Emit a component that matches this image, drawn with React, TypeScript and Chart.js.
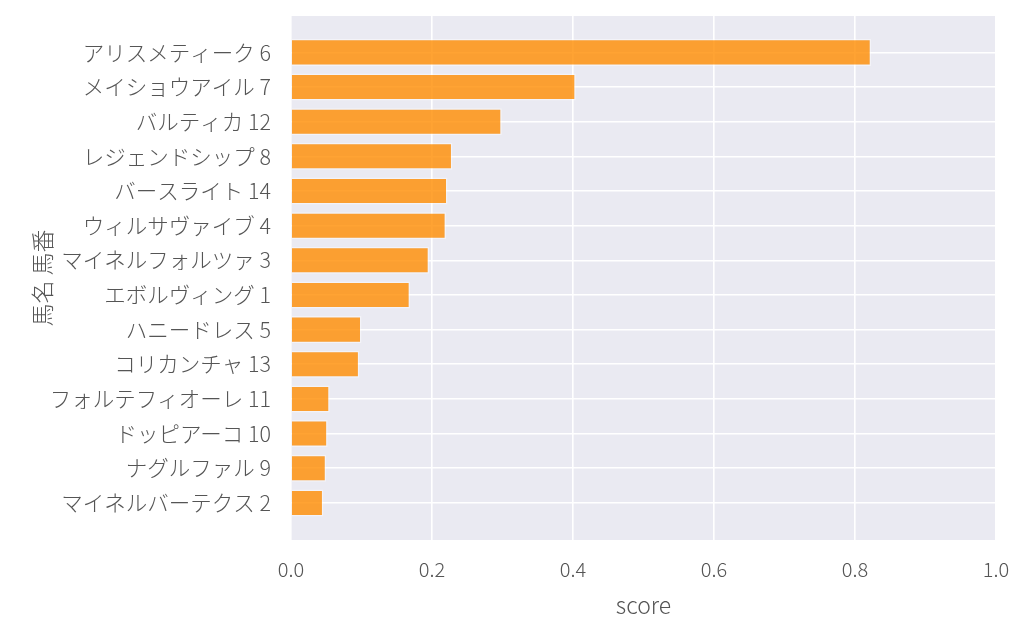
import { useEffect, useRef } from 'react';
import Chart from 'chart.js/auto';

// horse name + number, top to bottom
const horses = [
  'アリスメティーク 6',
  'メイショウアイル 7',
  'バルティカ 12',
  'レジェンドシップ 8',
  'バースライト 14',
  'ウィルサヴァイブ 4',
  'マイネルフォルツァ 3',
  'エボルヴィング 1',
  'ハニードレス 5',
  'コリカンチャ 13',
  'フォルテフィオーレ 11',
  'ドッピアーコ 10',
  'ナグルファル 9',
  'マイネルバーテクス 2',
];
const scores = [0.823, 0.404, 0.299, 0.229, 0.222, 0.220, 0.196, 0.169, 0.100, 0.097, 0.055, 0.052, 0.050, 0.046];
const xTicks = [0, 0.2, 0.4, 0.6, 0.8, 1.0];

const FONT = '"Noto Sans CJK JP", "Noto Sans", sans-serif';
const TEXT = '#555555';

const plotBg = {
  id: 'plotBg',
  beforeDraw(chart: any) {
    const { ctx, chartArea } = chart;
    ctx.save();
    ctx.fillStyle = '#EAEAF2';
    ctx.fillRect(chartArea.left, chartArea.top, chartArea.right - chartArea.left, chartArea.bottom - chartArea.top);
    ctx.restore();
  },
};

export default function App() {
  const canvasRef = useRef<HTMLCanvasElement | null>(null);

  useEffect(() => {
    if (!canvasRef.current) return;
    const chart = new Chart(canvasRef.current, {
      type: 'bar',
      data: {
        datasets: [
          {
            label: 'score',
            data: scores.map((s, i) => ({ x: s, y: i })),
            backgroundColor: 'rgba(255,140,0,0.8)',
            borderColor: 'rgba(255,255,255,0.45)',
            borderWidth: 1.5,
            barPercentage: 0.78,
            categoryPercentage: 1,
          },
        ],
      },
      options: {
        indexAxis: 'y',
        animation: false,
        responsive: false,
        layout: { padding: { top: 16, right: 28, left: 0, bottom: 0 } },
        plugins: { legend: { display: false }, tooltip: { enabled: false } },
        scales: {
          x: {
            type: 'linear',
            min: 0,
            max: 1,
            offset: false,
            afterBuildTicks: (scale: any) => {
              scale.ticks = xTicks.map((v) => ({ value: v }));
            },
            afterFit: (scale: any) => {
              scale.height = 91;
              scale.paddingLeft = 0;
              scale.paddingRight = 0;
            },
            grid: { color: '#ffffff', lineWidth: 1.6, drawTicks: false, offset: false },
            border: { display: false },
            ticks: {
              padding: 17,
              color: TEXT,
              font: { family: FONT, size: 20, weight: 300 },
              callback: (v: any) => Number(v).toFixed(1),
            },
            title: {
              display: true,
              text: 'score',
              color: TEXT,
              font: { family: FONT, size: 23, weight: 300 },
              padding: { top: 0, bottom: 12 },
            },
          },
          y: {
            type: 'linear',
            reverse: true,
            min: -1.05,
            max: 14.07,
            offset: false,
            afterBuildTicks: (scale: any) => {
              scale.ticks = horses.map((_, i) => ({ value: i }));
            },
            afterFit: (scale: any) => {
              scale.width = 291;
              scale.paddingTop = 0;
              scale.paddingBottom = 0;
            },
            grid: { color: '#ffffff', lineWidth: 1.6, drawTicks: false, offset: false },
            border: { display: false },
            ticks: {
              padding: 20,
              color: TEXT,
              font: { family: FONT, size: 21.5, weight: 300 },
              callback: (v: any) => horses[v] ?? '',
            },
            title: {
              display: true,
              text: '馬名 馬番',
              color: TEXT,
              font: { family: FONT, size: 23, weight: 300 },
              padding: { top: 28, bottom: 0 },
            },
          },
        },
      },
      plugins: [plotBg],
    });
    return () => chart.destroy();
  }, []);

  return (
    <div style={{ position: 'fixed', left: 0, top: 0, width: 1024, height: 631, background: '#fff' }}>
      <canvas ref={canvasRef} width={1024} height={631} style={{ width: 1024, height: 631 }} />
    </div>
  );
}
